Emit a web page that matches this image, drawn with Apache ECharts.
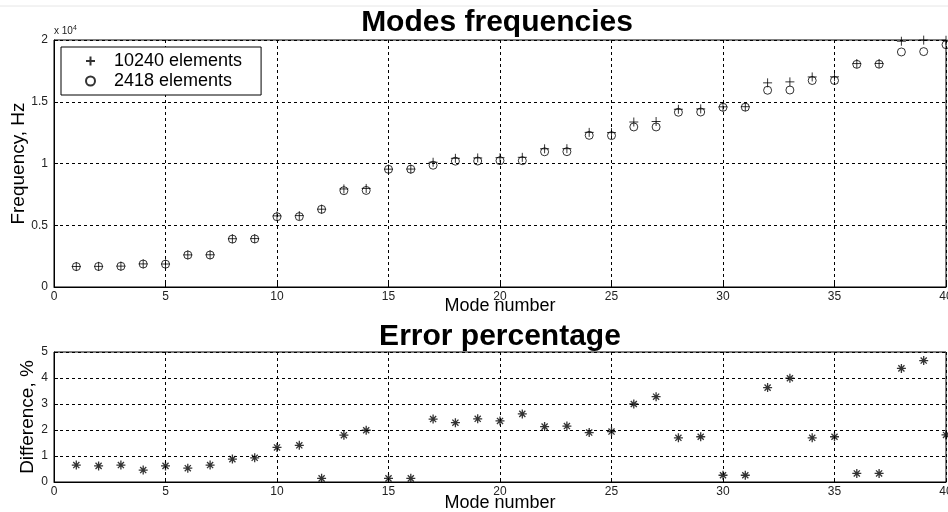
<!DOCTYPE html>
<html>
<head>
<meta charset="utf-8">
<script src="https://cdn.jsdelivr.net/npm/echarts@6/dist/echarts.min.js"></script>
<style>
    html, body { margin: 0; padding: 0; background: #fff; }
    #chart { width: 948px; height: 512px; }
</style>
</head>
<body>
<div id="chart"></div>
<script>
// mode numbers 1..40
const modes = [1, 2, 3, 4, 5, 6, 7, 8, 9, 10, 11, 12, 13, 14, 15, 16, 17, 18, 19, 20,
    21, 22, 23, 24, 25, 26, 27, 28, 29, 30, 31, 32, 33, 34, 35, 36, 37, 38, 39, 40];
// frequencies, Hz (10240 elements mesh, "+")
const freqFine = [1660, 1670, 1690, 1870, 1860, 2600, 2610, 3910, 3920, 5760,
    5780, 6300, 7940, 7980, 9540, 9550, 10100, 10420, 10450, 10470,
    10500, 11190, 11200, 12520, 12500, 13360, 13400, 14390, 14420, 14590,
    14600, 16530, 16610, 17010, 17020, 18090, 18100, 19900, 19990, 19980];
// frequencies, Hz (2418 elements mesh, "o")
const freqCoarse = [1650, 1660, 1680, 1860, 1850, 2590, 2590, 3880, 3890, 5690,
    5700, 6290, 7800, 7820, 9530, 9540, 9860, 10190, 10200, 10230,
    10230, 10950, 10960, 12280, 12260, 12960, 12960, 14150, 14170, 14550,
    14560, 15930, 15950, 16720, 16720, 18030, 18040, 19030, 19060, 19620];
// difference, %
const errorPct = [0.65, 0.62, 0.65, 0.46, 0.62, 0.53, 0.65, 0.88, 0.93, 1.33,
    1.41, 0.14, 1.80, 1.99, 0.14, 0.14, 2.42, 2.28, 2.43, 2.35,
    2.62, 2.13, 2.15, 1.90, 1.94, 3.00, 3.28, 1.70, 1.74, 0.26,
    0.26, 3.63, 3.99, 1.70, 1.74, 0.33, 0.33, 4.37, 4.67, 1.81];

const FONT = 'Liberation Sans';
const plusPath = 'path://M5,0L5,10M0,5L10,5';
const starPath = 'path://M5,0L5,10M0,5L10,5M1.6,1.6L8.4,8.4M8.4,1.6L1.6,8.4';

const chart = echarts.init(document.getElementById('chart'));

function xAxisOpt(gridIndex) {
    return {
        type: 'value', gridIndex: gridIndex, min: 0, max: 40, interval: 5,
        name: 'Mode number', nameLocation: 'middle', nameGap: gridIndex === 0 ? 10 : 12,
        nameMoveOverlap: false,
        nameTextStyle: { fontFamily: FONT, fontSize: 18, color: '#000' },
        axisLine: { lineStyle: { color: '#000', width: 1 } },
        axisTick: { inside: true, length: 4, lineStyle: { color: '#000' } },
        axisLabel: { fontFamily: FONT, fontSize: 12, color: '#222', margin: 4 },
        splitLine: { show: true, lineStyle: { color: '#000', type: [3, 3], width: 1 } }
    };
}

function markStyle() {
    return { color: 'transparent', borderColor: '#000', borderWidth: 1 };
}

chart.setOption({
    backgroundColor: '#fff',
    animation: false,
    title: [
        { text: 'Modes frequencies', left: 492, top: 3, textAlign: 'center',
          textStyle: { fontFamily: FONT, fontSize: 30, fontWeight: 'bold', color: '#000' } },
        { text: 'Error percentage', left: 495, top: 317, textAlign: 'center',
          textStyle: { fontFamily: FONT, fontSize: 30, fontWeight: 'bold', color: '#000' } }
    ],
    legend: {
        left: 61, top: 47, orient: 'vertical',
        padding: [4, 19, 4, 24], itemGap: 0, itemWidth: 9, itemHeight: 9,
        borderColor: '#000', borderWidth: 1, borderRadius: 0, backgroundColor: '#fff',
        textStyle: { fontFamily: FONT, fontSize: 18, color: '#000', lineHeight: 20, padding: [0, 0, 0, 14] },
        data: [
            { name: '10240 elements', icon: plusPath },
            { name: '2418 elements', icon: 'circle' }
        ]
    },
    grid: [
        { left: 54, right: 2, top: 40, height: 247, show: true, borderColor: '#000', borderWidth: 1,
          outerBoundsMode: 'none' },
        { left: 54, right: 2, top: 352, height: 130, show: true, borderColor: '#000', borderWidth: 1,
          outerBoundsMode: 'none' }
    ],
    xAxis: [xAxisOpt(0), xAxisOpt(1)],
    yAxis: [
        {
            type: 'value', gridIndex: 0, min: 0, max: 20000, interval: 5000,
            name: 'Frequency, Hz', nameLocation: 'middle', nameGap: 26, nameMoveOverlap: false,
            nameTextStyle: { fontFamily: FONT, fontSize: 19, color: '#000' },
            axisLine: { show: true, lineStyle: { color: '#000' } },
            axisTick: { show: true, inside: true, length: 4, lineStyle: { color: '#000' } },
            axisLabel: { fontFamily: FONT, fontSize: 12, color: '#222', margin: 6,
                formatter: v => String(v / 10000) },
            splitLine: { show: true, lineStyle: { color: '#000', type: [3, 3], width: 1 } }
        },
        {
            type: 'value', gridIndex: 1, min: 0, max: 5, interval: 1,
            name: 'Difference, %', nameLocation: 'middle', nameGap: 17, nameMoveOverlap: false,
            nameTextStyle: { fontFamily: FONT, fontSize: 19, color: '#000' },
            axisLine: { show: true, lineStyle: { color: '#000' } },
            axisTick: { show: true, inside: true, length: 4, lineStyle: { color: '#000' } },
            axisLabel: { fontFamily: FONT, fontSize: 12, color: '#222', margin: 6 },
            splitLine: { show: true, lineStyle: { color: '#000', type: [3, 3], width: 1 } }
        }
    ],
    graphic: [
        { type: 'line', shape: { x1: 0, y1: 6, x2: 948, y2: 6 }, style: { stroke: '#e6e6e6', lineWidth: 1 } },
        { type: 'text', left: 54, top: 25,
          style: { text: 'x 10{s|4}', font: '10px "Liberation Sans"', fill: '#222',
                   rich: { s: { fontSize: 7, verticalAlign: 'top', padding: [0, 0, 6, 0] } } } }
    ],
    series: [
        {
            name: '10240 elements', type: 'scatter', xAxisIndex: 0, yAxisIndex: 0, z: 3,
            symbol: plusPath, symbolSize: 9, itemStyle: markStyle(),
            data: modes.map((m, i) => [m, freqFine[i]])
        },
        {
            name: '2418 elements', type: 'scatter', xAxisIndex: 0, yAxisIndex: 0, z: 2,
            symbol: 'circle', symbolSize: 8, itemStyle: markStyle(),
            data: modes.map((m, i) => [m, freqCoarse[i]])
        },
        {
            name: 'Difference', type: 'scatter', xAxisIndex: 1, yAxisIndex: 1,
            symbol: starPath, symbolSize: 9,
            itemStyle: { color: 'transparent', borderColor: '#000', borderWidth: 1.3 },
            data: modes.map((m, i) => [m, errorPct[i]])
        }
    ]
});
</script>
</body>
</html>
